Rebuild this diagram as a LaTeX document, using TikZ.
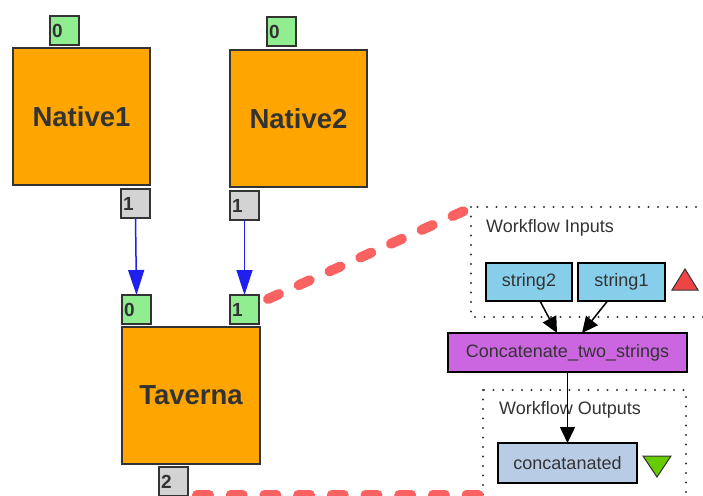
\documentclass[tikz,border=0pt]{standalone}
\usepackage{fontspec}
\setmainfont{Liberation Sans}
\usetikzlibrary{arrows.meta}
\definecolor{orangebox}{HTML}{FFA500}
\definecolor{portin}{HTML}{90EE90}
\definecolor{portout}{HTML}{D3D3D3}
\definecolor{edgec}{HTML}{333333}
\definecolor{redline}{HTML}{FA6262}
\definecolor{skyb}{HTML}{87CEEB}
\definecolor{procc}{HTML}{CC66E0}
\definecolor{outb}{HTML}{B8CCE6}
\definecolor{redtri}{HTML}{EE4444}
\definecolor{greentri}{HTML}{66CC00}
\definecolor{bluearr}{HTML}{2020EE}
\begin{document}
\begin{tikzpicture}[x=1pt,y=-1pt,
  procbox/.style={draw=edgec, line width=1.2pt, fill=orangebox, minimum width=137pt,
    minimum height=137pt, anchor=north west, inner sep=0pt, outer sep=0pt,
    font=\bfseries\fontsize{27.5}{30}\selectfont, text=edgec},
  portbox/.style={draw=edgec, line width=1.2pt, minimum height=29pt, text width=25pt,
    inner xsep=2pt, inner ysep=0pt, align=left, anchor=north west, outer sep=0pt,
    font=\bfseries\fontsize{19}{20}\selectfont, text=edgec},
  wfbox/.style={draw=black, line width=1.2pt, inner sep=0pt, outer sep=0pt,
    font=\fontsize{18}{20}\selectfont, text=edgec},
  grouptitle/.style={anchor=base west, inner sep=0pt, font=\fontsize{18}{20}\selectfont, text=edgec},
  dotbox/.style={draw=edgec, line width=2.4pt, line cap=round, dash pattern=on 0pt off 9.5pt},
  bluelink/.style={draw=bluearr, line width=1.5pt, -{Triangle[length=25pt,width=16pt]}},
  blacklink/.style={draw=black, line width=1.5pt, -{Triangle[length=16pt,width=15pt]}},
  redlink/.style={draw=redline, line width=10pt, line cap=round, dash pattern=on 12pt off 21.7pt}
]
\useasboundingbox (0,0) rectangle (703,495);
\clip (0,0) rectangle (703,495);

% dotted groups
\draw[dotbox] (471,207) rectangle (730,317);
\draw[dotbox] (483,390) rectangle (686,520);
\node[grouptitle] (wintitle) at (486,232) {Workflow Inputs};
\node[grouptitle] (wouttitle) at (499,414) {Workflow Outputs};
\coordinate (wincorner) at (466,210);

% processors
\node[procbox] (native1) at (13,48) {Native1};
\node[procbox] (native2) at (230,50) {Native2};
\node[procbox, minimum width=138pt] (taverna) at (122,327) {Taverna};

% ports
\node[portbox, fill=portin] (n1p0) at (50,16) {0};
\node[portbox, fill=portout] (n1p1) at (121,189) {1};
\node[portbox, fill=portin] (n2p0) at (267,17) {0};
\node[portbox, fill=portout] (n2p1) at (230,191) {1};
\node[portbox, fill=portin] (tp0) at (122,295) {0};
\node[portbox, fill=portin] (tp1) at (230,295) {1};
\node[portbox, fill=portout] (tp2) at (159,467) {2};

% workflow nodes
\node[wfbox, fill=skyb, minimum width=86pt, minimum height=38pt] (s2) at (529,282) {string2};
\node[wfbox, fill=skyb, minimum width=87pt, minimum height=38pt] (s1) at (621.5,282) {string1};
\node[wfbox, fill=procc, minimum width=239pt, minimum height=39pt] (concat) at (567.5,352.5) {Concatenate\_two\_strings};
\node[wfbox, fill=outb, minimum width=139pt, minimum height=40pt] (cout) at (567.5,463) {concatanated};

% triangles
\draw[draw=edgec, line width=1pt, fill=redtri] (685,269) -- (698,290) -- (672,290) -- cycle;
\draw[draw=edgec, line width=1pt, fill=greentri] (643,456) -- (671,456) -- (657,477) -- cycle;

% links
\draw[bluelink] (n1p1.south) -- (tp0.north);
\draw[bluelink] (n2p1.south) -- (tp1.north);
\draw[blacklink] ([xshift=11pt]s2.south) -- ([xshift=-10.5pt]concat.north);
\draw[blacklink] ([xshift=-14pt]s1.south) -- ([xshift=14.5pt]concat.north);
\draw[blacklink] (concat.south) -- (cout.north);

% red dashed links
\coordinate (redend) at (480,495);
\draw[redlink] ([shift={(9pt,-4pt)}]tp1.north east) -- (wincorner);
\draw[redlink] ([xshift=9pt]tp2.east |- redend) -- (redend);
\end{tikzpicture}
\end{document}
